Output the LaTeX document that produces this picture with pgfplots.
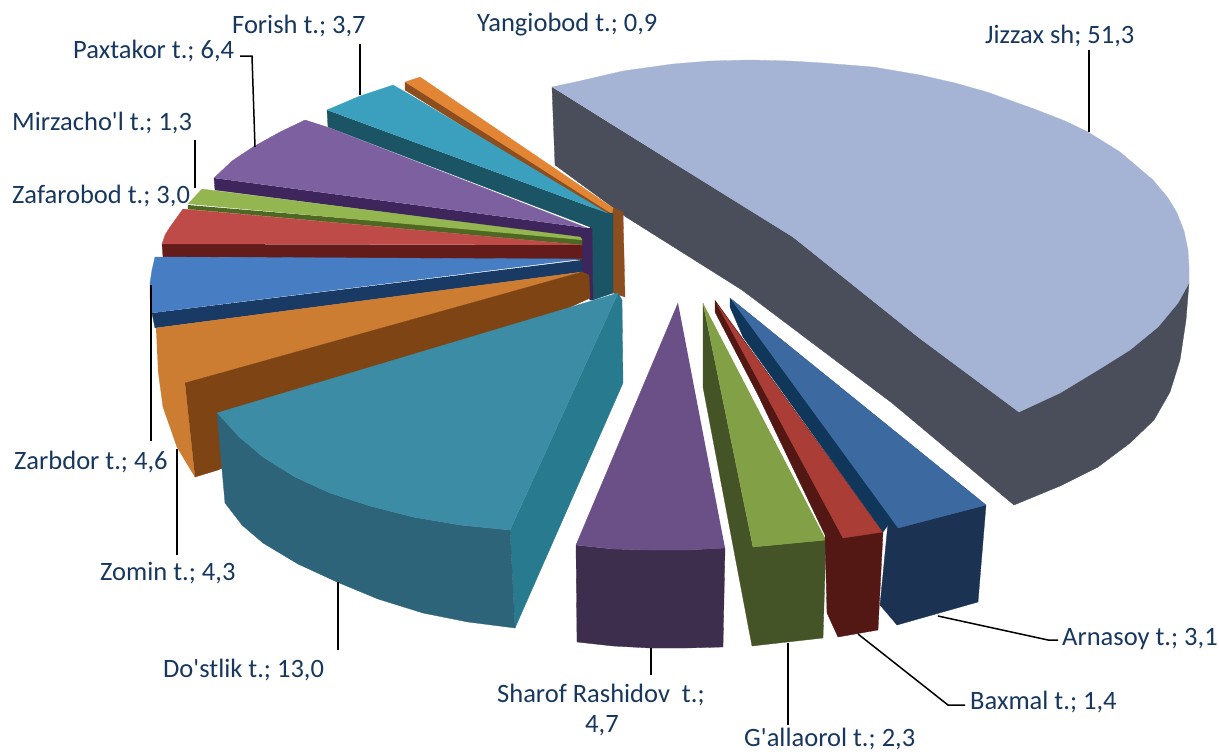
\documentclass[border=0pt]{standalone}
\usepackage{pgfplots}
\pgfplotsset{compat=1.18}
\usepackage{fontspec}
\newfontfamily\lab{Carlito}
\definecolor{txt}{RGB}{23,55,94}
\definecolor{jt}{RGB}{165,180,212}\definecolor{jd}{RGB}{74,78,90}
\definecolor{yt}{RGB}{226,134,54}\definecolor{yd}{RGB}{140,78,30}
\definecolor{ft}{RGB}{58,160,190}\definecolor{fd}{RGB}{27,84,100}
\definecolor{pt}{RGB}{125,96,160}\definecolor{pd}{RGB}{62,38,92}
\definecolor{mt}{RGB}{148,182,80}\definecolor{md}{RGB}{78,104,36}
\definecolor{zt}{RGB}{190,75,72}\definecolor{zd}{RGB}{100,28,26}
\definecolor{bt}{RGB}{70,125,195}\definecolor{bd}{RGB}{24,58,100}
\definecolor{ot}{RGB}{204,125,50}\definecolor{od}{RGB}{126,68,20}
\definecolor{dt}{RGB}{60,140,165}\definecolor{dd}{RGB}{45,100,122}\definecolor{dr}{RGB}{40,122,142}
\definecolor{st}{RGB}{106,80,135}\definecolor{sd}{RGB}{62,46,78}
\definecolor{gt}{RGB}{130,160,70}\definecolor{gd}{RGB}{68,84,38}
\definecolor{rt}{RGB}{170,62,54}\definecolor{rd}{RGB}{84,24,20}
\definecolor{at}{RGB}{60,105,160}\definecolor{ad}{RGB}{28,50,82}\definecolor{as}{RGB}{16,54,90}
\tikzset{lbl/.style={anchor=west,text=txt,inner sep=0pt,font=\lab\fontsize{26.5}{30}\selectfont},
ldr/.style={black,line width=1.5pt,no markers}}
\newcommand{\poly}[2]{\addplot[fill=#1,draw=#1,line width=0.3pt,no markers] coordinates {#2};}
\begin{document}
\begin{tikzpicture}
\begin{axis}[width=1219pt,height=753pt,scale only axis,xmin=0,xmax=1219,ymin=0,ymax=753,y dir=reverse,hide axis,clip=false]
\path (rel axis cs:0,0) rectangle (rel axis cs:1,1);
% Jizzax
\poly{jd}{(552,87)(555,165)(626,217)(742,290)(892,403)(1014,505)(1060,486)(1098,467)(1130,443)(1154,420)(1170,392)(1180,360)(1186,320)(1189,283)(1019,412)(918,337)(793,237)(669,160)}
\poly{jt}{(552,87)(580,81)(623,71)(673,64)(710,61)(750,60)(790,61)(823,63)(873,67)(920,75)(955,83)(987,92)(1037,110)(1065,121)(1088,132)(1120,152)(1153,180)(1168,198)(1177,213)(1184,231)(1188,250)(1189,267)(1189,283)(1178,303)(1158,327)(1130,350)(1098,370)(1060,393)(1019,412)(918,337)(793,237)(669,160)}
% Yangiobod
\poly{yd}{(405,82)(405,90)(613,220)(613,293)(625,297)(623,212)(613,208)}
\poly{yt}{(405,82)(420,77)(613,208)(612,214)}
% Forish
\poly{fd}{(327,110)(328,127)(590,227)(593,300)(613,293)(613,213)(607,213)}
\poly{ft}{(327,110)(360,96)(393,85)(407,93)(607,213)}
% Paxtakor
\poly{pd}{(214,178)(215,190)(582,238)(582,280)(590,300)(593,300)(592,228)(587,228)}
\poly{pt}{(214,178)(232,161)(253,147)(280,132)(305,120)(327,127)(587,228)}
% Mirzacho'l
\poly{md}{(188,205)(188,209)(582,245)(582,238)}
\poly{mt}{(188,204)(202,189)(580,237)(582,240)}
% Zafarobod
\poly{zd}{(162,244)(163,257)(582,260)(582,245)}
\poly{zt}{(162,244)(165,235)(170,227)(183,209)(582,245)}
% Zarbdor
\poly{bd}{(152,313)(155,328)(582,272)(582,260)}
\poly{bt}{(152,313)(150,298)(150,283)(152,270)(155,257)(582,259)}
% Zomin
\poly{ot}{(156,328)(582,272)(185,383)(195,477)(177,447)(163,407)(158,370)}
\poly{od}{(185,383)(582,272)(589,275)(590,298)(218,470)(195,477)}
% Do'stlik
\poly{dr}{(510,530)(515,628)(623,383)(622,300)(618,293)}
\poly{dd}{(217,413)(225,503)(242,525)(263,543)(298,564)(337,582)(378,599)(423,613)(468,622)(515,628)(510,530)(460,525)(413,517)(370,506)(330,493)(295,477)(263,457)(238,436)}
\poly{dt}{(217,413)(618,293)(510,530)(460,525)(413,517)(370,506)(330,493)(295,477)(263,457)(238,436)}
% Sharof
\poly{sd}{(576,545)(577,642)(613,646)(650,648)(687,648)(723,647)(725,548)(688,550)(650,550)(613,549)}
\poly{st}{(678,303)(576,545)(613,549)(650,550)(688,550)(725,548)}
% G'allaorol
\poly{gd}{(703,303)(703,387)(752,646)(823,638)(826,540)(753,547)}
\poly{gt}{(703,303)(753,547)(826,540)}
% Baxmal
\poly{rd}{(715,300)(715,312)(758,395)(825,535)(827,613)(838,637)(878,630)(883,532)}
\poly{rt}{(717,304)(843,538)(883,532)}
% Arnasoy
\poly{as}{(730,298)(730,307)(743,337)(883,532)(888,525)(898,528)(986,505)}
\poly{ad}{(898,528)(888,523)(880,605)(897,625)(978,602)(986,505)}
\poly{at}{(730,298)(986,505)(898,528)}
% leaders
\addplot[ldr] coordinates {(1089,50)(1089,132)};
\addplot[ldr] coordinates {(360,44)(360,95)};
\addplot[ldr] coordinates {(240,56)(252,56)(255,147)};
\addplot[ldr] coordinates {(195,140)(195,188)};
\addplot[ldr] coordinates {(151,285)(151,441)};
\addplot[ldr] coordinates {(177,449)(177,555)};
\addplot[ldr] coordinates {(338,582)(338,650)};
\addplot[ldr] coordinates {(651,648)(651,675)};
\addplot[ldr] coordinates {(788,643)(788,725)};
\addplot[ldr] coordinates {(858,634)(948,705)(965,705)};
\addplot[ldr] coordinates {(938,616)(1048,640)(1058,640)};
% labels
\node[lbl] at (axis cs:985,36) {Jizzax sh; 51,3};
\node[lbl] at (axis cs:477,25) {Yangiobod t.; 0,9};
\node[lbl] at (axis cs:232,26) {Forish t.; 3,7};
\node[lbl] at (axis cs:73,51) {Paxtakor t.; 6,4};
\node[lbl] at (axis cs:12,123) {Mirzacho'l t.; 1,3};
\node[lbl] at (axis cs:12,196) {Zafarobod t.; 3,0};
\node[lbl] at (axis cs:14,462) {Zarbdor t.; 4,6};
\node[lbl] at (axis cs:100,573) {Zomin t.; 4,3};
\node[lbl] at (axis cs:163,670) {Do'stlik t.; 13,0};
\node[lbl] at (axis cs:497,695) {Sharof Rashidov\ \ t.;};
\node[lbl] at (axis cs:585,726) {4,7};
\node[lbl] at (axis cs:744,739) {G'allaorol t.; 2,3};
\node[lbl] at (axis cs:970,702) {Baxmal t.; 1,4};
\node[lbl] at (axis cs:1062,639) {Arnasoy t.; 3,1};
\end{axis}
\end{tikzpicture}
\end{document}
